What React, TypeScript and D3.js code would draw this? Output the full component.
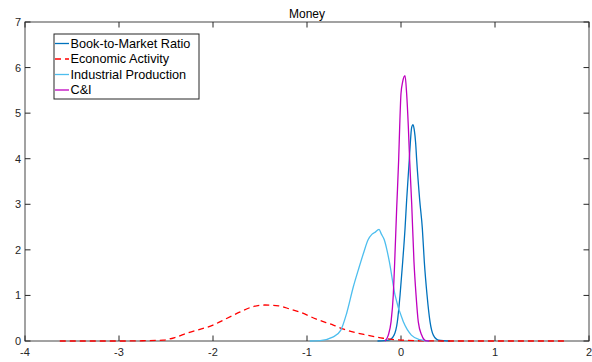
import React from "react";
import * as d3 from "d3";

const title = "Money";
const xTicks = [-4, -3, -2, -1, 0, 1, 2];
const yTicks = [0, 1, 2, 3, 4, 5, 6, 7];
const seriesNames = ["Book-to-Market Ratio", "Economic Activity", "Industrial Production", "C&I"];

const bookToMarket: [number, number][] = [
  [-0.25, 0], [-0.13, 0.02], [-0.074, 0.13], [-0.039, 0.42], [-0.01, 1.01], [0.018, 1.74],
  [0.043, 2.47], [0.06, 3.09], [0.088, 3.97], [0.099, 4.34], [0.113, 4.68], [0.128, 4.75],
  [0.142, 4.62], [0.156, 4.34], [0.167, 3.97], [0.199, 3.09], [0.227, 2.47], [0.248, 1.74],
  [0.277, 1.01], [0.309, 0.42], [0.344, 0.13], [0.4, 0.02], [0.52, 0],
];
const economicActivity: [number, number][] = [
  [-3.63, 0], [-3.0, 0.0], [-2.75, 0.005], [-2.53, 0.02], [-2.4, 0.08], [-2.28, 0.17],
  [-2.0, 0.35], [-1.85, 0.5], [-1.71, 0.64], [-1.58, 0.75], [-1.45, 0.79], [-1.3, 0.77],
  [-1.18, 0.7], [-1.07, 0.63], [-0.9, 0.48], [-0.72, 0.35], [-0.61, 0.26], [-0.365, 0.13],
  [-0.19, 0.06], [-0.117, 0.04], [0.0, 0.02], [0.2, 0.005], [0.5, 0], [1.77, 0],
];
const industrialProduction: [number, number][] = [
  [-0.97, 0], [-0.86, 0.01], [-0.72, 0.09], [-0.64, 0.24], [-0.578, 0.61], [-0.507, 1.19],
  [-0.454, 1.56], [-0.4, 1.92], [-0.35, 2.22], [-0.31, 2.34], [-0.28, 2.38], [-0.234, 2.45],
  [-0.21, 2.35], [-0.178, 2.22], [-0.15, 2.0], [-0.124, 1.74], [-0.064, 1.01], [0.025, 0.42],
  [0.11, 0.13], [0.2, 0.03], [0.3, 0],
];
const cAndI: [number, number][] = [
  [-0.17, 0], [-0.135, 0.13], [-0.106, 0.42], [-0.082, 1.01], [-0.067, 1.74], [-0.046, 2.91],
  [-0.025, 3.97], [-0.014, 4.7], [0.0, 5.43], [0.018, 5.69], [0.043, 5.82], [0.06, 5.43],
  [0.078, 4.7], [0.092, 3.97], [0.114, 3.0], [0.138, 1.74], [0.16, 1.01], [0.184, 0.42],
  [0.22, 0.13], [0.26, 0.01], [0.3, 0],
];

const colors = ["#0072BD", "#FF0000", "#4DBEEE", "#BF00BF"];
const dashes = [null, "6,4", null, null];
const allSeries = [bookToMarket, economicActivity, industrialProduction, cAndI];

export default function App() {
  const W = 592, H = 362;
  const left = 25, right = 589, top = 22, bottom = 341;
  const x = d3.scaleLinear().domain([-4, 2]).range([left, right]);
  const y = d3.scaleLinear().domain([0, 7]).range([bottom, top]);
  const line = d3.line<[number, number]>().x(d => x(d[0])).y(d => y(d[1])).curve(d3.curveMonotoneX);
  const axisColor = "#262626";
  const font = "'Liberation Sans', Arial, Helvetica, sans-serif";
  const tl = 5.5;

  const legX = 54, legY = 34, legW = 145, legH = 65;
  const rowY = [43.5, 59, 74.5, 90];

  return (
    <svg width={W} height={H} style={{ position: "absolute", left: 0, top: 0 }} fontFamily={font}>
      <rect x={0} y={0} width={W} height={H} fill="#fff" />
      {xTicks.map(t => (
        <g key={"xt" + t}>
          <line x1={x(t)} x2={x(t)} y1={bottom} y2={bottom - tl} stroke={axisColor} strokeWidth={1} />
          <line x1={x(t)} x2={x(t)} y1={top} y2={top + tl} stroke={axisColor} strokeWidth={1} />
          <text x={x(t)} y={356} textAnchor="middle" fontSize={11} fill={axisColor}>{t}</text>
        </g>
      ))}
      {yTicks.map(t => (
        <g key={"yt" + t}>
          <line x1={left} x2={left + tl} y1={y(t)} y2={y(t)} stroke={axisColor} strokeWidth={1} />
          <line x1={right} x2={right - tl} y1={y(t)} y2={y(t)} stroke={axisColor} strokeWidth={1} />
          <text x={21} y={y(t) + 4} textAnchor="end" fontSize={11} fill={axisColor}>{t}</text>
        </g>
      ))}
      <rect x={left} y={top} width={right - left} height={bottom - top} fill="none" stroke={axisColor} strokeWidth={1} strokeOpacity={0.85} />
      <text x={(left + right) / 2} y={18} textAnchor="middle" fontSize={12} fill="#000">{title}</text>
      {allSeries.map((s, i) => (
        <path key={"s" + i} d={line(s) || ""} fill="none" stroke={colors[i]} strokeWidth={1.3}
          strokeDasharray={dashes[i] || undefined} />
      ))}
      <rect x={legX} y={legY} width={legW} height={legH} fill="#fff" stroke={axisColor} strokeWidth={1} />
      {seriesNames.map((n, i) => (
        <g key={"l" + i}>
          <line x1={55} x2={69} y1={rowY[i]} y2={rowY[i]} stroke={colors[i]} strokeWidth={1.3}
            strokeDasharray={dashes[i] || undefined} />
          <text x={70.5} y={rowY[i] + 4.3} fontSize={12.7} fill="#000">{n}</text>
        </g>
      ))}
    </svg>
  );
}
